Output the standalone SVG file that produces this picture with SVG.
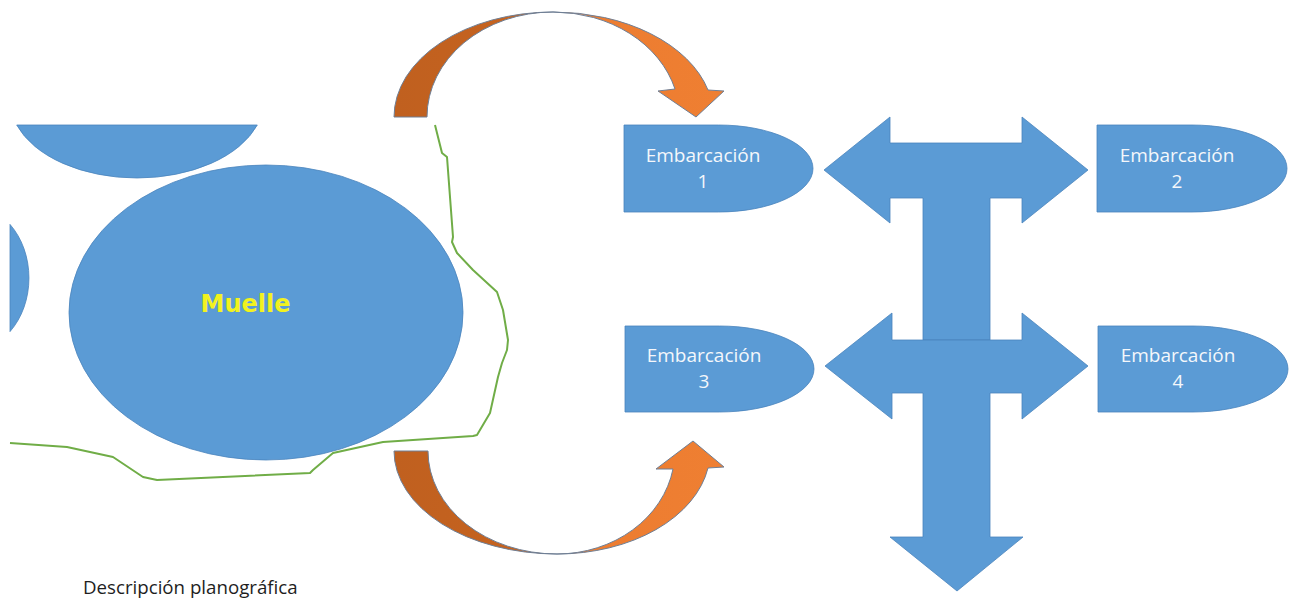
<svg xmlns="http://www.w3.org/2000/svg" width="1293" height="598" viewBox="0 0 1293 598">
<style>
.blue{fill:#5B9BD5;stroke:#4A84BC;stroke-width:0.8}
.lbl{font-family:"Open Sans","Noto Sans",sans-serif;font-size:19px;fill:#F4F7FB;text-anchor:middle}
.coast{fill:none;stroke:#70AD47;stroke-width:2;stroke-linejoin:round}
.curv{stroke:#6F7F95;stroke-width:1}
</style>
<defs>
<linearGradient id="gTop" gradientUnits="userSpaceOnUse" x1="394" y1="0" x2="724" y2="0">
<stop offset="0" stop-color="#C0601F"/><stop offset="0.44" stop-color="#C6631F"/><stop offset="0.56" stop-color="#EC7C30"/><stop offset="1" stop-color="#EF7F32"/>
</linearGradient>
<linearGradient id="gBot" gradientUnits="userSpaceOnUse" x1="394" y1="0" x2="724" y2="0">
<stop offset="0" stop-color="#C0601F"/><stop offset="0.45" stop-color="#C6631F"/><stop offset="0.57" stop-color="#EC7C30"/><stop offset="1" stop-color="#EF7F32"/>
</linearGradient>
</defs>
<rect width="1293" height="598" fill="#FFFFFF"/>

<g id="island-top">
<path class="blue" d="M16.7,125 A127,78 0 0 0 257.3,125 Z"/>
</g>
<g id="island-left">
<path class="blue" d="M10,224.4 A59,73 0 0 1 10,331.6 Z"/>
</g>
<g id="muelle">
<ellipse class="blue" cx="266" cy="312.5" rx="197" ry="147.5" stroke="#41719C"/>
<text x="245.5" y="312" font-family="'DejaVu Sans',sans-serif" font-weight="bold" font-size="24" fill="#F2F21E" text-anchor="middle">Muelle</text>
</g>
<g id="coastline">
<polyline class="coast" points="435,125 442,153 447,157 453,237 452,242 457,253 473,270 497,292 503,310 508,340 507,350 502,363 498,377 490,413 477,435 473,436 383,442 333,453 313,470 310,473 157,480 143,477 113,457 67,447 10,443"/>
</g>

<g id="connectors">
<path class="curv" fill="url(#gTop)" d="M394,117 A159,105 0 0 1 553,12 A160.4,105 0 0 1 708,90 L724,91 L696,117 L658,91 L675,89 A126.6,105 0 0 0 553,12 A126,105 0 0 0 427,117 Z"/>
<path class="curv" fill="url(#gBot)" d="M394,451 A163,103 0 0 0 557,554 A153,103 0 0 0 708,468 L724,467 L693,441 L656,469 L673,469 A118,103 0 0 1 557,554 A129,103 0 0 1 428,451 Z"/>
<polygon class="blue" points="824,170 890,117 890,143 1022,143 1022,117 1088,170 1022,223 1022,198 990,198 990,340 923,340 923,198 890,198 890,223"/>
<polygon class="blue" points="825,366 892,313 892,340 1022,340 1022,313 1088,366 1022,419 1022,393 990,393 990,537 1023,537 957,591 890,537 923,537 923,393 892,393 892,419"/>
</g>

<g id="embarcacion1">
<path class="blue" d="M624,125 H718.5 A94.5,43.5 0 0 1 718.5,212 H624 Z"/>
<text class="lbl" x="703" y="162">Embarcación</text>
<text class="lbl" x="703" y="188">1</text>
</g>
<g id="embarcacion2">
<path class="blue" d="M1097,125 H1192 A95,43.5 0 0 1 1192,212 H1097 Z"/>
<text class="lbl" x="1177" y="162">Embarcación</text>
<text class="lbl" x="1177" y="188">2</text>
</g>
<g id="embarcacion3">
<path class="blue" d="M625,326 H719.5 A94.5,43 0 0 1 719.5,412 H625 Z"/>
<text class="lbl" x="704" y="362">Embarcación</text>
<text class="lbl" x="704" y="388">3</text>
</g>
<g id="embarcacion4">
<path class="blue" d="M1098,326 H1193 A95,43 0 0 1 1193,412 H1098 Z"/>
<text class="lbl" x="1178" y="362">Embarcación</text>
<text class="lbl" x="1178" y="388">4</text>
</g>

<g id="caption">
<text x="83" y="594" font-family="'Open Sans','Noto Sans',sans-serif" font-size="18.7" fill="#1E1E1E">Descripción planográfica</text>
</g>
</svg>
